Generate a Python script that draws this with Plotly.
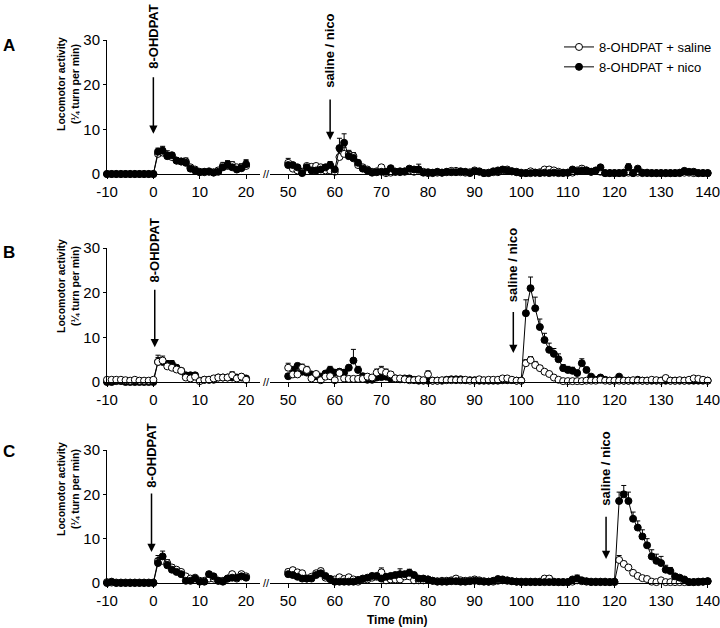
import plotly.graph_objects as go

W, H = 720, 628
FONT = "Liberation Sans, Arial, sans-serif"

# ---------------- data ----------------
pre_time = list(range(-10, 21))      # minutes, before the break
post_time = list(range(50, 141))     # minutes, after the break
pre_ticks = [-10, 0, 10, 20]
pre_tick_labels = ["-10", "0", "10", "20"]
post_ticks = [50, 60, 70, 80, 90, 100, 110, 120, 130, 140]
y_ticks = [0, 10, 20, 30]
series_names = ["8-OHDPAT + saline", "8-OHDPAT + nico"]
panel_labels = ["A", "B", "C"]

# ---- Panel A ----
a_sal_pre = [0, 0, 0, 0, 0, 0, 0, 0, 0, 0, 0,
             4.5, 4.8, 4.2, 3.8, 3.0, 2.8, 2.8, 1.5, 1.0, 0.5,
             0.4, 0.6, 0.4, 0.8, 1.8, 1.8, 2.0, 1.5, 1.5, 1.8]
a_sal_pre_err = [0, 0, 0, 0, 0, 0, 0, 0, 0, 0, 0,
                 1.0, 1.2, 1.0, 0.8, 0.6, 0.5, 0.8, 0.3, 0.3, 0.2,
                 0.3, 0.3, 0.3, 0.5, 0.8, 1.2, 0.8, 0.6, 0.8, 1.2]
a_nico_pre = [0, 0, 0, 0, 0, 0, 0, 0, 0, 0, 0,
              5.0, 5.2, 4.0, 4.2, 3.0, 2.8, 2.5, 1.2, 0.8, 0.4,
              0.5, 0.5, 0.3, 0.5, 1.5, 2.0, 1.5, 1.0, 1.3, 2.2]
a_nico_pre_err = [0, 0, 0, 0, 0, 0, 0, 0, 0, 0, 0,
                  0.8, 1.0, 0.8, 0.6, 0.5, 0.5, 0.6, 0.3, 0.3, 0.2,
                  0.2, 0.3, 0.2, 0.3, 0.6, 0.8, 0.6, 0.5, 0.6, 1.0]
a_sal_post = [2.5, 1.2, 0.8, 0.5, 1.8, 1.6, 1.8, 1.5, 0.8, 0.8,
              0.5, 3.8, 4.5, 4.5, 4.0, 2.0, 1.5, 1.0, 0.5, 0.6,
              1.5, 0.2, 0.3, 0.5, 0.4, 0.5, 0.8, 0.5, 1.0, 0.5,
              0.2, 0.2, 0.3, 0.3, 0.4, 0.7, 0.7, 0.4, 0.3, 0.4,
              0.8, 0.6, 0.2, 0.3, 0.4, 0.4, 0.8, 1.0, 0.6, 0.5,
              0.3, 0.2, 0.6, 0.3, 0.4, 1.0, 1.0, 0.8, 0.5, 0.2,
              0.3, 0.3, 0.8, 1.2, 0.8, 0.5, 0.7, 0.5, 0.2, 0.2,
              0.2, 0.2, 0.2, 0.3, 0.2, 0.3, 0.2, 0.2, 0.2, 0.2,
              0.2, 0.2, 0.2, 0.2, 0.2, 0.3, 0.3, 0.2, 0.2, 0.2,
              0.2]
a_sal_post_err = [1.0, 0.5, 0.5, 0.3, 0.4, 0.3, 0.4, 0.4, 0.4, 0.3,
                  0.3, 1.2, 1.5, 0.8, 0.8, 0.5, 0.4, 0.3, 0.2, 0.2,
                  0.4, 0.2, 0.2, 0.2, 0.3, 0.3, 0.5, 0.4, 0.6, 0.3,
                  0.2, 0.2, 0.2, 0.2, 0.2, 0.3, 0.3, 0.2, 0.2, 0.2,
                  0.3, 0.3, 0.2, 0.2, 0.2, 0.2, 0.4, 0.5, 0.3, 0.2,
                  0.2, 0.2, 0.3, 0.2, 0.2, 0.4, 0.4, 0.3, 0.2, 0.2,
                  0.2, 0.2, 0.4, 0.6, 0.4, 0.3, 0.3, 0.3, 0.2, 0.2,
                  0.1, 0.1, 0.1, 0.1, 0.1, 0.1, 0.1, 0.1, 0.1, 0.1,
                  0.1, 0.1, 0.1, 0.1, 0.1, 0.1, 0.1, 0.1, 0.1, 0.1,
                  0.1]
a_nico_post = [2.0, 2.0, 1.5, 0.2, 1.5, 0.8, 0.8, 1.0, 1.5, 2.0,
               1.0, 5.8, 7.0, 4.0, 3.5, 2.5, 1.2, 0.8, 0.3, 0.4,
               0.5, 0.5, 1.3, 0.5, 0.6, 0.6, 1.2, 1.0, 1.0, 0.3,
               0.4, 0.3, 0.5, 0.3, 0.5, 0.4, 0.4, 0.6, 0.5, 0.2,
               0.6, 0.5, 0.2, 0.2, 0.6, 0.8, 1.0, 0.8, 0.6, 0.4,
               0.2, 0.2, 0.2, 0.3, 0.2, 0.3, 0.2, 0.3, 0.2, 0.3,
               0.3, 1.0, 0.6, 0.8, 0.8, 0.5, 0.8, 1.5, 0.2, 0.2,
               0.2, 0.2, 0.3, 1.5, 0.2, 1.2, 0.3, 0.3, 0.2, 0.2,
               0.2, 0.2, 0.2, 0.2, 0.3, 0.7, 0.5, 0.5, 0.2, 0.2,
               0.2]
a_nico_post_err = [0.5, 0.5, 0.4, 0.2, 0.4, 0.3, 0.3, 0.4, 0.5, 0.8,
                   0.4, 2.2, 2.0, 1.0, 0.8, 0.6, 0.4, 0.3, 0.2, 0.2,
                   0.2, 0.2, 0.5, 0.2, 0.3, 0.3, 0.5, 0.5, 1.2, 0.2,
                   0.2, 0.2, 0.2, 0.2, 0.2, 0.2, 0.2, 0.2, 0.2, 0.2,
                   0.2, 0.2, 0.2, 0.2, 0.3, 0.4, 0.4, 0.3, 0.2, 0.2,
                   0.1, 0.1, 0.1, 0.1, 0.1, 0.1, 0.1, 0.1, 0.1, 0.1,
                   0.1, 0.4, 0.3, 0.4, 0.3, 0.2, 0.3, 0.5, 0.1, 0.1,
                   0.1, 0.1, 0.1, 0.8, 0.1, 0.5, 0.1, 0.1, 0.1, 0.1,
                   0.1, 0.1, 0.1, 0.1, 0.1, 0.3, 0.2, 0.2, 0.1, 0.1,
                   0.1]

# ---- Panel B ----
b_sal_pre = [0.5, 0.5, 0.5, 0.5, 0.4, 0.3, 0.5, 0.3, 0.3, 0.3, 0.5,
             4.5, 4.8, 3.5, 3.2, 2.8, 2.5, 1.0, 0.8, 1.2, 0.2,
             0.5, 0.5, 0.8, 1.0, 1.0, 1.0, 1.5, 0.8, 1.2, 0.5]
b_sal_pre_err = [0.2, 0.2, 0.2, 0.2, 0.1, 0.1, 0.2, 0.1, 0.1, 0.1, 0.1,
                 1.5, 1.0, 0.8, 1.0, 0.8, 0.5, 0.4, 0.3, 0.5, 0.2,
                 0.2, 0.2, 0.3, 0.3, 0.3, 0.3, 0.8, 0.4, 0.6, 0.3]
b_nico_pre = [0, 0, 0.2, 0.2, 0, 0, 0, 0, 0, 0, 0,
              4.5, 4.5, 4.0, 4.0, 3.2, 2.5, 1.5, 1.5, 1.5, 0.3,
              0.5, 0.5, 0.5, 1.0, 1.0, 1.0, 1.0, 1.0, 1.0, 0.8]
b_nico_pre_err = [0, 0, 0, 0, 0, 0, 0, 0, 0, 0, 0,
                  1.0, 0.8, 0.8, 0.8, 0.6, 0.5, 0.5, 0.5, 0.5, 0.2,
                  0.2, 0.2, 0.2, 0.3, 0.3, 0.3, 0.3, 0.3, 0.4, 0.3]
b_sal_post = [3.2, 1.7, 1.7, 3.2, 2.7, 0.8, 1.8, 0.4, 1.2, 1.3,
              0.4, 2.0, 0.8, 0.7, 0.7, 0.7, 0.7, 1.2, 1.0, 2.1,
              2.5, 2.1, 1.7, 0.8, 0.8, 0.6, 0.4, 0.4, 0.6, 0.4,
              1.7, 0.3, 0.3, 0.4, 0.4, 0.4, 0.4, 0.4, 0.5, 0.3,
              0.3, 0.6, 0.4, 0.5, 0.5, 0.5, 0.8, 0.8, 0.5, 0.3,
              0.3, 4.2, 4.9, 3.8, 3.1, 2.3, 1.8, 1.0, 0.5, 0.2,
              0.2, 0.2, 0.2, 0.2, 0.3, 0.3, 0.3, 0.5, 0.3, 0.3,
              0.3, 0.3, 0.3, 0.3, 0.4, 0.3, 0.3, 0.3, 0.5, 0.4,
              0.3, 0.9, 0.3, 0.3, 0.4, 0.3, 0.5, 0.8, 0.7, 0.5,
              0.3]
b_sal_post_err = [1.0, 0.8, 0.8, 0.8, 0.8, 0.5, 0.5, 0.3, 0.5, 0.6,
                  0.3, 0.6, 0.3, 0.3, 0.3, 0.3, 0.3, 0.5, 0.4, 0.8,
                  1.0, 0.8, 0.6, 0.3, 0.3, 0.2, 0.2, 0.2, 0.2, 0.2,
                  0.8, 0.2, 0.2, 0.2, 0.2, 0.2, 0.2, 0.2, 0.2, 0.2,
                  0.2, 0.2, 0.2, 0.2, 0.2, 0.2, 0.4, 0.4, 0.3, 0.2,
                  0.1, 0.8, 0.8, 0.8, 0.6, 0.5, 0.4, 0.3, 0.2, 0.1,
                  0.1, 0.1, 0.1, 0.1, 0.1, 0.1, 0.1, 0.1, 0.1, 0.1,
                  0.1, 0.1, 0.1, 0.1, 0.1, 0.1, 0.1, 0.1, 0.1, 0.1,
                  0.1, 0.5, 0.1, 0.1, 0.1, 0.1, 0.1, 0.2, 0.2, 0.1,
                  0.1]
b_nico_post = [1.3, 2.7, 3.6, 2.3, 2.1, 1.7, 1.3, 1.2, 1.9, 2.7,
               2.1, 2.3, 2.1, 3.2, 4.8, 2.7, 1.3, 0.5, 0.5, 1.0,
               1.1, 1.2, 0.8, 0.8, 0.6, 0.8, 0.8, 0.5, 0.3, 0.3,
               0.3, 0.3, 0.3, 0.3, 0.5, 0.6, 0.6, 0.6, 0.4, 0.4,
               0.4, 0.3, 0.3, 0.3, 0.3, 0.3, 0.4, 0.4, 0.4, 0.3,
               0.3, 15.4, 21.0, 16.5, 12.3, 9.4, 7.2, 6.3, 5.1, 3.1,
               2.7, 2.5, 2.0, 4.2, 2.7, 1.2, 0.5, 1.0, 0.5, 0.3,
               0.3, 1.2, 0.3, 0.3, 0.3, 0.5, 0.3, 0.3, 0.3, 0.3,
               0.3, 0.3, 0.3, 0.3, 0.3, 0.3, 0.3, 0.3, 0.3, 0.3,
               0.3]
b_nico_post_err = [0.6, 0.6, 0.6, 0.6, 0.5, 0.5, 0.4, 0.3, 0.5, 0.8,
                   0.5, 0.6, 0.5, 0.6, 2.5, 0.8, 0.5, 0.2, 0.2, 0.3,
                   0.4, 0.4, 0.3, 0.3, 0.2, 0.3, 0.3, 0.2, 0.2, 0.2,
                   0.2, 0.2, 0.2, 0.2, 0.2, 0.4, 0.4, 0.2, 0.2, 0.2,
                   0.2, 0.2, 0.2, 0.2, 0.2, 0.2, 0.2, 0.2, 0.2, 0.2,
                   0.1, 3.0, 2.5, 2.5, 1.8, 1.5, 1.5, 1.2, 1.2, 0.8,
                   0.8, 0.8, 0.6, 1.0, 0.6, 0.3, 0.2, 0.5, 0.2, 0.2,
                   0.2, 0.4, 0.2, 0.2, 0.2, 0.2, 0.2, 0.2, 0.2, 0.2,
                   0.2, 0.2, 0.2, 0.2, 0.2, 0.2, 0.2, 0.2, 0.2, 0.2,
                   0.2]

# ---- Panel C ----
c_sal_pre = [0.2, 0.1, 0.1, 0.1, 0.1, 0.1, 0.1, 0.1, 0.1, 0.1, 0.1,
             5.0, 5.0, 4.5, 3.5, 3.0, 2.5, 1.5, 1.0, 1.2, 0.5,
             0.5, 1.0, 1.0, 0.5, 0.5, 1.0, 2.0, 1.0, 2.0, 1.5]
c_sal_pre_err = [0, 0, 0, 0, 0, 0, 0, 0, 0, 0, 0,
                 1.2, 1.0, 0.8, 0.6, 0.5, 0.5, 0.4, 0.3, 0.3, 0.2,
                 0.2, 0.3, 0.3, 0.2, 0.2, 0.3, 0.5, 0.3, 0.4, 0.3]
c_nico_pre = [0, 0.3, 0, 0, 0, 0, 0, 0, 0, 0, 0,
              4.5, 6.0, 4.0, 3.0, 2.5, 2.0, 0.5, 0.5, 1.0, 0.3,
              0.3, 2.0, 1.5, 0.5, 0.3, 1.0, 1.2, 1.2, 1.5, 1.2]
c_nico_pre_err = [0, 0, 0, 0, 0, 0, 0, 0, 0, 0, 0,
                  1.0, 1.2, 0.8, 0.5, 0.5, 0.4, 0.3, 0.3, 0.3, 0.1,
                  0.1, 0.6, 0.5, 0.2, 0.1, 0.3, 0.4, 0.4, 0.4, 0.3]
c_sal_post = [2.5, 2.9, 2.4, 2.2, 1.0, 1.4, 2.2, 2.7, 1.2, 0.9,
              0.8, 1.3, 0.9, 1.3, 0.8, 0.3, 1.0, 0.8, 1.2, 1.4,
              2.4, 0.6, 0.8, 0.8, 0.8, 1.5, 1.5, 0.6, 0.6, 0.6,
              0.8, 0.5, 0.4, 0.5, 0.5, 0.6, 1.0, 0.6, 0.5, 0.6,
              0.8, 0.6, 0.4, 0.3, 0.3, 0.5, 0.6, 0.5, 0.4, 0.3,
              0.3, 0.3, 0.3, 0.3, 0.3, 1.0, 1.0, 0.3, 0.2, 0.2,
              0.2, 0.3, 0.6, 0.4, 0.3, 0.3, 0.3, 0.3, 0.3, 0.2,
              0.2, 5.2, 4.3, 3.5, 2.3, 1.6, 1.1, 0.9, 0.3, 0.2,
              0.6, 0.2, 0.2, 0.2, 0.2, 0.2, 0.2, 0.2, 0.2, 0.3,
              0.4]
c_sal_post_err = [0.6, 0.6, 0.5, 0.5, 0.3, 0.3, 0.4, 0.6, 0.3, 0.2,
                  0.2, 0.3, 0.2, 0.3, 0.2, 0.2, 0.3, 0.2, 0.3, 0.3,
                  1.0, 0.2, 0.2, 0.3, 0.3, 0.5, 0.5, 0.2, 0.2, 0.2,
                  0.2, 0.2, 0.2, 0.2, 0.2, 0.2, 0.5, 0.2, 0.2, 0.2,
                  0.4, 0.2, 0.2, 0.2, 0.2, 0.2, 0.2, 0.2, 0.2, 0.2,
                  0.1, 0.1, 0.1, 0.1, 0.1, 0.6, 0.6, 0.1, 0.1, 0.1,
                  0.1, 0.1, 0.3, 0.2, 0.1, 0.1, 0.1, 0.1, 0.1, 0.1,
                  0.1, 1.0, 0.6, 0.5, 0.3, 0.3, 0.2, 0.2, 0.1, 0.1,
                  0.3, 0.1, 0.1, 0.1, 0.1, 0.1, 0.1, 0.1, 0.1, 0.1,
                  0.1]
c_nico_post = [2.0, 1.8, 1.4, 1.0, 1.0, 1.0, 1.8, 2.2, 1.6, 0.9,
               0.3, 0.3, 0.3, 0.3, 0.3, 0.7, 0.9, 1.2, 1.6, 1.6,
               1.0, 1.4, 1.6, 1.8, 2.0, 2.0, 2.3, 1.8, 1.0, 1.0,
               0.8, 0.5, 0.3, 0.3, 0.3, 0.4, 0.4, 0.3, 0.3, 0.4,
               0.5, 0.4, 0.3, 0.3, 0.5, 0.9, 0.8, 0.6, 0.4, 0.3,
               0.2, 0.2, 0.2, 0.2, 0.2, 0.2, 0.2, 0.2, 0.2, 0.2,
               0.2, 0.8, 1.0, 0.6, 0.4, 0.2, 0.2, 0.2, 0.2, 0.2,
               0.3, 18.5, 20.0, 18.5, 14.5, 12.5, 10.5, 8.5, 6.0, 5.0,
               4.5, 3.0, 2.7, 1.5, 1.2, 0.8, 0.2, 0.2, 0.3, 0.3,
               0.4]
c_nico_post_err = [0.5, 0.5, 0.4, 0.3, 0.3, 0.3, 0.5, 0.6, 0.4, 0.2,
                   0.1, 0.1, 0.1, 0.1, 0.1, 0.3, 0.3, 0.3, 0.5, 0.5,
                   0.5, 0.5, 0.5, 0.6, 1.2, 0.6, 0.8, 0.6, 0.4, 0.4,
                   0.2, 0.2, 0.2, 0.2, 0.2, 0.2, 0.2, 0.2, 0.2, 0.2,
                   0.2, 0.2, 0.2, 0.2, 0.2, 0.4, 0.3, 0.2, 0.2, 0.2,
                   0.1, 0.1, 0.1, 0.1, 0.1, 0.1, 0.1, 0.1, 0.1, 0.1,
                   0.1, 0.3, 0.8, 0.3, 0.2, 0.1, 0.1, 0.1, 0.1, 0.1,
                   0.1, 2.0, 2.0, 2.0, 1.5, 1.5, 1.5, 1.5, 1.5, 1.5,
                   1.5, 1.0, 0.8, 0.5, 0.4, 0.3, 0.1, 0.1, 0.1, 0.1,
                   0.1]

# injection times (minutes) and arrow extents (activity units)
ohdpat_time = [0, 0.3, -0.4]
ohdpat_arrow_top = [22, 21, 20.5]
ohdpat_arrow_tip = [9, 7.8, 7]
ohdpat_text_y = [30.8, 29.6, 28.8]
nico_time = [59, 98.3, 118.2]
nico_arrow_top = [17, 16, 15.3]
nico_arrow_tip = [7.6, 6.5, 5.4]
nico_text_y = [27.6, 26.2, 25.8]
Y_MAX = 30

panels = [
    (a_sal_pre, a_sal_pre_err, a_nico_pre, a_nico_pre_err,
     a_sal_post, a_sal_post_err, a_nico_post, a_nico_post_err, True),
    (b_sal_pre, b_sal_pre_err, b_nico_pre, b_nico_pre_err,
     b_sal_post, b_sal_post_err, b_nico_post, b_nico_post_err, False),
    (c_sal_pre, c_sal_pre_err, c_nico_pre, c_nico_pre_err,
     c_sal_post, c_sal_post_err, c_nico_post, c_nico_post_err, True),
]

# ---------------- layout geometry (pixels) ----------------
row_top_px = [40, 248, 450]
row_bot_px = [174, 382, 583]
left_dom_px = (107, 260)
right_dom_px = (270, 710)
ytitle_center_px = [84, 286, 489]
label_center_px = [45, 252, 452]


def px_x(p):
    return p / W


def px_y(p):
    return 1 - p / H


def trace(x, y, err, filled, xa, ya, name, showlegend):
    return go.Scatter(
        x=x, y=y, mode="lines+markers", name=name, showlegend=showlegend,
        legendgroup=name, xaxis=xa, yaxis=ya, cliponaxis=False,
        line=dict(color="black", width=1),
        marker=dict(symbol="circle", size=7,
                    color="black" if filled else "white",
                    line=dict(color="black", width=1)),
        error_y=dict(type="data", array=err, arrayminus=[0] * len(err),
                     symmetric=False, color="black", thickness=1, width=2.5),
    )


fig = go.Figure()
layout = dict(
    width=W, height=H, margin=dict(l=0, r=0, t=0, b=0),
    paper_bgcolor="white", plot_bgcolor="white",
    font=dict(family=FONT, color="black", size=15),
    showlegend=True,
    legend=dict(x=px_x(559), y=px_y(32), xanchor="left", yanchor="top",
                font=dict(size=13, family=FONT), bgcolor="rgba(0,0,0,0)",
                tracegroupgap=0, itemwidth=30),
)
annotations = []

for r, p in enumerate(panels):
    (sal_pre, sal_pre_e, nico_pre, nico_pre_e,
     sal_post, sal_post_e, nico_post, nico_post_e, nico_on_top) = p
    xl, xr = 2 * r + 1, 2 * r + 2
    xl_n = "x" if xl == 1 else f"x{xl}"
    xr_n = f"x{xr}"
    yl_n = "y" if xl == 1 else f"y{xl}"
    yr_n = f"y{xr}"
    ydom = [px_y(row_bot_px[r]), px_y(row_top_px[r])]

    def y_to_paper(v):
        return ydom[0] + (ydom[1] - ydom[0]) * v / Y_MAX

    order = [("sal", False), ("nico", True)] if nico_on_top else [("nico", True), ("sal", False)]
    for key, filled in order:
        if key == "sal":
            pre, pre_e, post, post_e, nm = sal_pre, sal_pre_e, sal_post, sal_post_e, series_names[0]
        else:
            pre, pre_e, post, post_e, nm = nico_pre, nico_pre_e, nico_post, nico_post_e, series_names[1]
        fig.add_trace(trace(pre_time, pre, pre_e, filled, xl_n, yl_n, nm, r == 0))
        fig.add_trace(trace(post_time, post, post_e, filled, xr_n, yr_n, nm, False))

    xcommon = dict(showline=True, linecolor="black", linewidth=1, ticks="outside",
                   ticklen=4, tickwidth=1, tickcolor="black", showgrid=False,
                   zeroline=False, tickfont=dict(size=15), automargin=False,
                   ticklabeloverflow="allow")
    layout[f"xaxis{'' if xl == 1 else xl}"] = dict(
        xcommon, domain=[px_x(left_dom_px[0]), px_x(left_dom_px[1])],
        range=[-10, 23], tickvals=pre_ticks, ticktext=pre_tick_labels, anchor=yl_n)
    layout[f"xaxis{xr}"] = dict(
        xcommon, domain=[px_x(right_dom_px[0]), px_x(right_dom_px[1])],
        range=[46.1, 140.5], tickvals=post_ticks, anchor=yr_n)
    layout[f"yaxis{'' if xl == 1 else xl}"] = dict(
        domain=ydom, range=[0, Y_MAX], tickvals=y_ticks, showline=True,
        linecolor="black", linewidth=1, ticks="outside", ticklen=3,
        tickcolor="black", showgrid=False, zeroline=False,
        tickfont=dict(size=15), anchor=xl_n, automargin=False,
        ticklabeloverflow="allow")
    layout[f"yaxis{xr}"] = dict(domain=ydom, range=[0, Y_MAX], visible=False,
                                anchor=xr_n)

    # injection arrows
    annotations.append(dict(x=ohdpat_time[r], y=ohdpat_arrow_tip[r],
                            ax=ohdpat_time[r], ay=ohdpat_arrow_top[r],
                            xref=xl_n, yref=yl_n, axref=xl_n, ayref=yl_n,
                            text="", showarrow=True, arrowhead=2, arrowsize=1.1,
                            arrowwidth=1.5, arrowcolor="black", standoff=0))
    annotations.append(dict(x=ohdpat_time[r], y=y_to_paper(ohdpat_text_y[r]),
                            xref=xl_n, yref="paper",
                            text="<b>8-OHDPAT</b>", textangle=-90, showarrow=False,
                            font=dict(size=13), xanchor="center", yanchor="middle"))
    annotations.append(dict(x=nico_time[r], y=nico_arrow_tip[r],
                            ax=nico_time[r], ay=nico_arrow_top[r],
                            xref=xr_n, yref=yr_n, axref=xr_n, ayref=yr_n,
                            text="", showarrow=True, arrowhead=2, arrowsize=1.1,
                            arrowwidth=1.5, arrowcolor="black", standoff=0))
    annotations.append(dict(x=nico_time[r], y=y_to_paper(nico_text_y[r]),
                            xref=xr_n, yref="paper",
                            text="<b>saline / nico</b>", textangle=-90, showarrow=False,
                            font=dict(size=13), xanchor="center", yanchor="middle"))

    # axis break mark
    annotations.append(dict(x=px_x(266), y=px_y(row_bot_px[r]), xref="paper", yref="paper",
                            text="//", showarrow=False, font=dict(size=11),
                            xanchor="center", yanchor="middle"))
    # y title
    annotations.append(dict(x=px_x(68), y=px_y(ytitle_center_px[r]), xref="paper", yref="paper",
                            text="<b>Locomotor activity</b><br><b>(¼ turn per min)</b>",
                            textangle=-90, showarrow=False, font=dict(size=10.5),
                            xanchor="center", yanchor="middle"))
    # panel label
    annotations.append(dict(x=px_x(9), y=px_y(label_center_px[r]), xref="paper", yref="paper",
                            text=f"<b>{panel_labels[r]}</b>", showarrow=False,
                            font=dict(size=17), xanchor="center", yanchor="middle"))

annotations.append(dict(x=px_x(397), y=px_y(620), xref="paper", yref="paper",
                        text="<b>Time (min)</b>", showarrow=False, font=dict(size=12),
                        xanchor="center", yanchor="middle"))

layout["annotations"] = annotations
fig.update_layout(**layout)
fig.write_html(
    "out.html",
    config={"displayModeBar": False},
    post_script="document.body.style.margin='0px';document.body.style.padding='0px';",
)
